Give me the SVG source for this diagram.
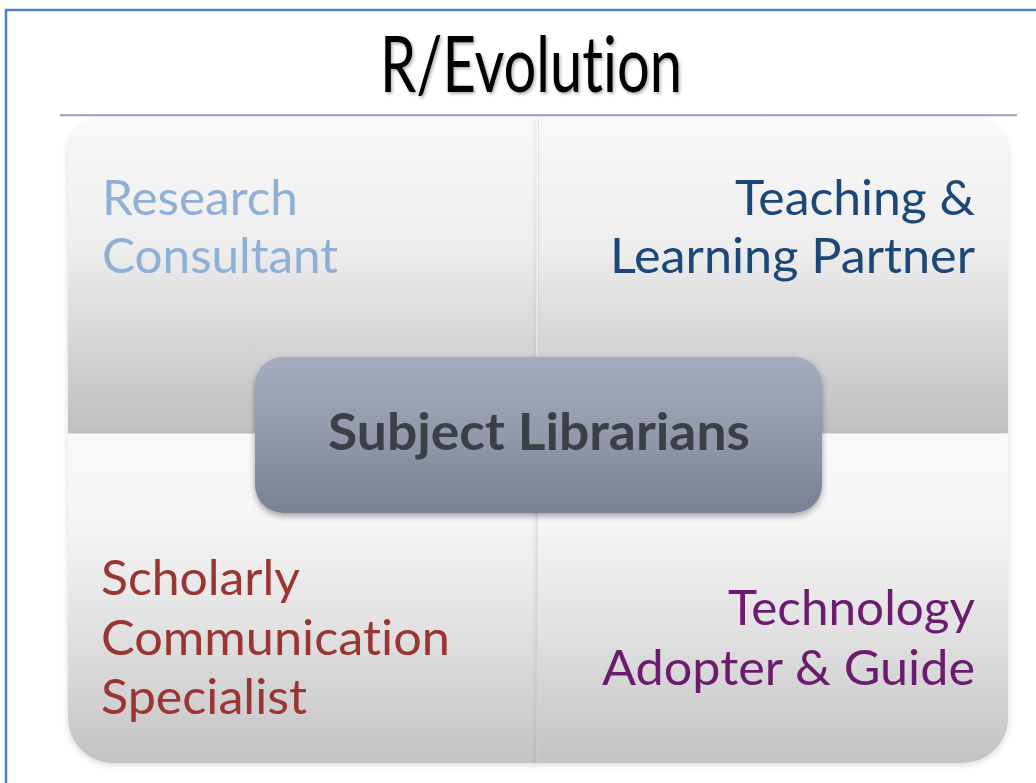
<svg xmlns="http://www.w3.org/2000/svg" width="1036" height="783" viewBox="0 0 1036 783">
  <style>
    text { font-variant-ligatures: none; font-feature-settings: "liga" 0, "clig" 0, "dlig" 0; }
    .lbl { font-family: Lato, "Open Sans", "Liberation Sans", sans-serif; font-size: 47.5px; }
    .title { font-family: Lato, "Open Sans", "Liberation Sans", sans-serif; font-size: 78px; fill: #000000; }
    .center { font-family: Lato, "Open Sans", "Liberation Sans", sans-serif; font-size: 52px; font-weight: bold; fill: #3c3f45; }
    .blue { fill: #8eb0d7; }
    .navy { fill: #1d4679; }
    .red { fill: #9a3433; }
    .purple { fill: #6c1a6e; }
  </style>
  <defs>
    <linearGradient id="gTop" gradientUnits="userSpaceOnUse" x1="0" y1="118" x2="0" y2="433">
      <stop offset="0" stop-color="#f9f9f9"/>
      <stop offset="0.4" stop-color="#eeeeee"/>
      <stop offset="1" stop-color="#bfbfbf"/>
    </linearGradient>
    <linearGradient id="gBot" gradientUnits="userSpaceOnUse" x1="0" y1="434" x2="0" y2="763">
      <stop offset="0" stop-color="#f9f9f9"/>
      <stop offset="0.25" stop-color="#f6f6f6"/>
      <stop offset="0.6" stop-color="#e1e1e1"/>
      <stop offset="1" stop-color="#c3c3c3"/>
    </linearGradient>
    <linearGradient id="gCenter" x1="0" y1="0" x2="0" y2="1">
      <stop offset="0" stop-color="#a5acbe"/>
      <stop offset="0.5" stop-color="#9299ab"/>
      <stop offset="1" stop-color="#7a8093"/>
    </linearGradient>
    <linearGradient id="gRule" x1="0" y1="0" x2="0" y2="1">
      <stop offset="0" stop-color="#b8c4ce"/>
      <stop offset="1" stop-color="#8795a2"/>
    </linearGradient>
    <filter id="shadow" x="-10%" y="-10%" width="120%" height="130%">
      <feDropShadow dx="0" dy="3" stdDeviation="3" flood-color="#000000" flood-opacity="0.35"/>
    </filter>
    <filter id="softShadow" x="-5%" y="-5%" width="110%" height="115%">
      <feDropShadow dx="0" dy="2" stdDeviation="3" flood-color="#000000" flood-opacity="0.15"/>
    </filter>
    <filter id="textShadow" x="-5%" y="-10%" width="110%" height="130%">
      <feDropShadow dx="1.5" dy="2" stdDeviation="1.5" flood-color="#000000" flood-opacity="0.3"/>
    </filter>
  </defs>

  <rect x="0" y="0" width="1036" height="783" fill="#ffffff"/>
  <rect x="6" y="10" width="1100" height="900" fill="none" stroke="#4f81bd" stroke-width="2.5"/>

  <g id="title">
    <text class="title" x="380" y="92" textLength="302" lengthAdjust="spacingAndGlyphs" filter="url(#textShadow)">R/Evolution</text>
    <rect x="60" y="114" width="957" height="2.2" fill="url(#gRule)"/>
  </g>

  <g id="quadrant-research" filter="url(#softShadow)">
    <path d="M68,153 A35,35 0 0 1 103,118 L537,118 L537,433 L68,433 Z" fill="url(#gTop)"/>
    <text class="lbl blue" x="102" y="215" textLength="196" lengthAdjust="spacingAndGlyphs">Research</text>
    <text class="lbl blue" x="102" y="273" textLength="236" lengthAdjust="spacingAndGlyphs">Consultant</text>
  </g>

  <g id="quadrant-teaching" filter="url(#softShadow)">
    <path d="M537,118 L973,118 A35,35 0 0 1 1008,153 L1008,433 L537,433 Z" fill="url(#gTop)"/>
    <text class="lbl navy" x="735" y="215" textLength="240" lengthAdjust="spacingAndGlyphs">Teaching &amp;</text>
    <text class="lbl navy" x="610" y="273" textLength="365" lengthAdjust="spacingAndGlyphs">Learning Partner</text>
  </g>

  <g id="quadrant-scholarly" filter="url(#softShadow)">
    <path d="M68,434 L537,434 L537,763 L113,763 A45,45 0 0 1 68,718 Z" fill="url(#gBot)"/>
    <text class="lbl red" x="101" y="595" textLength="199" lengthAdjust="spacingAndGlyphs">Scholarly</text>
    <text class="lbl red" x="101" y="655" textLength="349" lengthAdjust="spacingAndGlyphs">Communication</text>
    <text class="lbl red" x="101" y="714" textLength="206" lengthAdjust="spacingAndGlyphs">Specialist</text>
  </g>

  <g id="quadrant-technology" filter="url(#softShadow)">
    <path d="M537,434 L1008,434 L1008,718 A45,45 0 0 1 963,763 L537,763 Z" fill="url(#gBot)"/>
    <text class="lbl purple" x="728" y="625" textLength="247" lengthAdjust="spacingAndGlyphs">Technology</text>
    <text class="lbl purple" x="602" y="685" textLength="373" lengthAdjust="spacingAndGlyphs">Adopter &amp; Guide</text>
  </g>

  <g id="dividers">
    <line x1="537" y1="118" x2="537" y2="433" stroke="#ffffff" stroke-opacity="0.55" stroke-width="1.5"/>
    <line x1="538.5" y1="118" x2="538.5" y2="433" stroke="#c8c8c8" stroke-opacity="0.5" stroke-width="1"/>
    <line x1="537" y1="434" x2="537" y2="763" stroke="#d4d4d4" stroke-opacity="0.8" stroke-width="1.2"/>
  </g>

  <g id="subject-librarians">
    <rect x="255" y="357" width="567" height="156" rx="28" ry="28" fill="url(#gCenter)" filter="url(#shadow)"/>
    <text class="center" x="328" y="450" textLength="422" lengthAdjust="spacingAndGlyphs">Subject Librarians</text>
  </g>
</svg>
